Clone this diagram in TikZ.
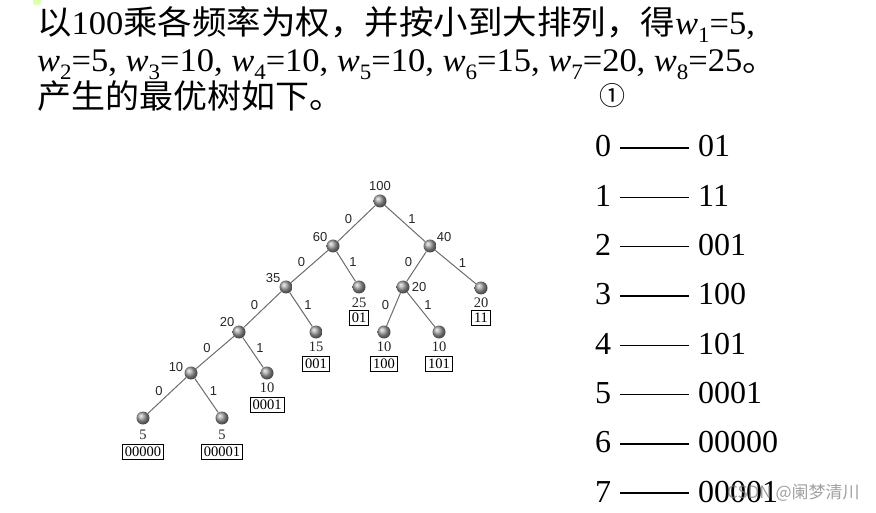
\documentclass[tikz,border=0pt]{standalone}
\usepackage{fontspec}
\setmainfont{Liberation Serif}
\newfontfamily\cjk{Noto Sans CJK SC}
\newfontfamily\tsans{Liberation Sans}
\usetikzlibrary{calc}
\newcommand\wsub[1]{\textit{w}\raisebox{-0.22em}{\fontsize{22}{22}\selectfont #1}}
\tikzset{
  big/.style={inner sep=0pt, font=\fontsize{33}{33}\selectfont},
  ball/.style={circle, minimum size=13pt, inner sep=0pt, shading=ball, ball color=gray!75},
  edge/.style={draw=gray!85!black, line width=1pt},
  wt/.style={inner sep=0pt, font=\tsans\fontsize{13}{13}\selectfont, text=black!85},
  wl/.style={inner sep=0pt, font=\fontsize{14.5}{14.5}\selectfont, text=black!85},
  codebox/.style={draw=black, line width=0.7pt, inner xsep=2.5pt, inner ysep=2.5pt,
     text height=9.5pt, text depth=0.5pt, font=\fontsize{14.5}{14.5}\selectfont},
  lz/.style={midway, inner sep=0pt, xshift=-8pt, yshift=4pt, font=\tsans\fontsize{13}{13}\selectfont, text=black!85},
  lo/.style={midway, inner sep=0pt, xshift=7pt, yshift=4pt, font=\tsans\fontsize{13}{13}\selectfont, text=black!85},
  row/.style={inner sep=0pt, anchor=base west, font=\fontsize{32}{32}\selectfont},
  dashline/.style={line width=1.4pt}
}
\begin{document}
\begin{tikzpicture}[x=1pt,y=-1pt]
\useasboundingbox (0,0) rectangle (876,513);
% small green tab at top-left
\fill[green!40!yellow!30!white, rounded corners=2pt] (33,-6) rectangle (41,5);
% heading text
\node[big, anchor=base west] (t1) at (37,35) {\scalebox{1.045}[1]{{\cjk 以}100{\cjk 乘各频率为权，并按小到大排列，得}\wsub{1}=5,}};
\node[big, anchor=base west] (t2) at (37,72) {\scalebox{1.045}[1]{\wsub{2}=5, \wsub{3}=10, \wsub{4}=10, \wsub{5}=10, \wsub{6}=15, \wsub{7}=20, \wsub{8}=25{\cjk 。}}};
\node[big, anchor=base west] (t3) at (37,109) {\scalebox{1.03}[1]{\cjk 产生的最优树如下。}};
\node[inner sep=0pt, font=\cjk\fontsize{26}{26}\selectfont] (circ) at (612,96) {①};

% tree nodes
\node[ball] (n100) at (380,201) {};
\node[ball] (n60) at (333,246) {};
\node[ball] (n40) at (430,246) {};
\node[ball] (n35) at (286,287) {};
\node[ball] (l25) at (359,287) {};
\node[ball] (n20r) at (403,287) {};
\node[ball] (l20) at (481,288) {};
\node[ball] (n20) at (239,332) {};
\node[ball] (l15) at (316,332) {};
\node[ball] (l10a) at (384,332) {};
\node[ball] (l10b) at (439,332) {};
\node[ball] (n10) at (191,373) {};
\node[ball] (l10c) at (267,373) {};
\node[ball] (l5a) at (143,418) {};
\node[ball] (l5b) at (222,418) {};

% edges
\draw[edge] (n100) -- node[lz]{0} (n60);
\draw[edge] (n100) -- node[lo]{1} (n40);
\draw[edge] (n60) -- node[lz]{0} (n35);
\draw[edge] (n60) -- node[lo]{1} (l25);
\draw[edge] (n40) -- node[lz]{0} (n20r);
\draw[edge] (n40) -- node[lo]{1} (l20);
\draw[edge] (n35) -- node[lz]{0} (n20);
\draw[edge] (n35) -- node[lo]{1} (l15);
\draw[edge] (n20r) -- node[lz]{0} (l10a);
\draw[edge] (n20r) -- node[lo]{1} (l10b);
\draw[edge] (n20) -- node[lz]{0} (n10);
\draw[edge] (n20) -- node[lo]{1} (l10c);
\draw[edge] (n10) -- node[lz]{0} (l5a);
\draw[edge] (n10) -- node[lo]{1} (l5b);

% internal weights
\node[wt] (w100) at (380,186) {100};
\node[wt] (w60) at (320,237) {60};
\node[wt] (w40) at (444,237) {40};
\node[wt] (w35) at (273,278) {35};
\node[wt] (w20r) at (419,287) {20};
\node[wt] (w20) at (227,322) {20};
\node[wt] (w10) at (176,367) {10};

% leaf weights and codes
\node[wl] (wl25) at (359,303) {25};   \node[codebox] (c25) at (359,318) {01};
\node[wl] (wl20) at (481,303) {20};   \node[codebox] (c20) at (481,318) {11};
\node[wl] (wl15) at (316,347) {15};   \node[codebox] (c15) at (316,364) {001};
\node[wl] (wl10a) at (384,347) {10};  \node[codebox] (c10a) at (384,364) {100};
\node[wl] (wl10b) at (439,347) {10};  \node[codebox] (c10b) at (439,364) {101};
\node[wl] (wl10c) at (267,388) {10};  \node[codebox] (c10c) at (267,405) {0001};
\node[wl] (wl5a) at (143,435) {5};    \node[codebox] (c5a) at (143,452) {00000};
\node[wl] (wl5b) at (222,435) {5};    \node[codebox] (c5b) at (222,452) {00001};

% code table
\foreach \i/\c in {0/01,1/11,2/001,3/100,4/101,5/0001,6/00000,7/00001} {
  \node[row] (d\i) at (595,{157+49.3*\i}) {\i};
  \node[row] (k\i) at (698,{157+49.3*\i}) {\c};
  \draw[dashline] ($(d\i.base west)+(25,-9)$) -- ($(k\i.base west)+(-9,-9)$);
}

% watermark
\node[inner sep=0pt, anchor=west, font=\cjk\fontsize{17}{17}\selectfont, text=gray, opacity=0.75] (wm) at (727,493) {CSDN @阑梦清川};
\end{tikzpicture}
\end{document}
